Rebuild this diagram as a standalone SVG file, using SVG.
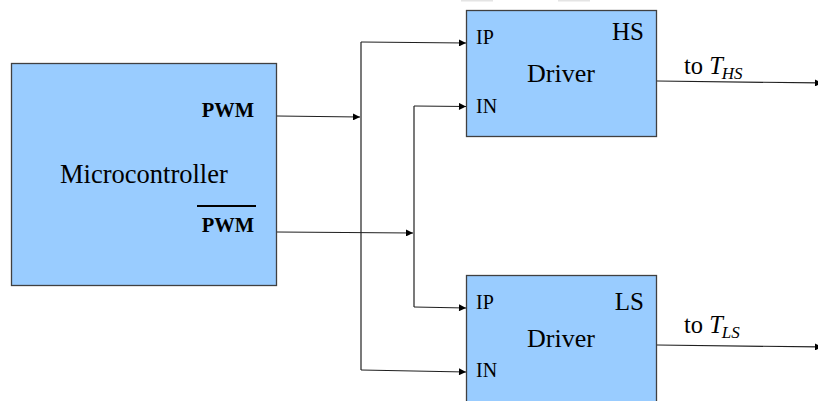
<svg xmlns="http://www.w3.org/2000/svg" width="818" height="401" viewBox="0 0 818 401">
<style>
.box{fill:#99ccff;stroke:#404040;stroke-width:1.3}
.t{font-family:'Liberation Serif','Times New Roman',Times,'DejaVu Serif','Noto Serif',serif;fill:#000}
.ln{stroke:#202020;stroke-width:1.2;fill:none}
</style>
<defs>
<marker id="ar" viewBox="0 0 10 10" refX="10" refY="5" markerWidth="9" markerHeight="7" markerUnits="userSpaceOnUse" orient="auto">
<path d="M0,0 L10,5 L0,10 z" fill="#000"/>
</marker>
</defs>
<rect x="461" y="0" width="32" height="1.5" fill="#e4e4e4"/>
<rect x="558" y="0" width="32" height="1.5" fill="#e4e4e4"/>
<g id="microcontroller">
<rect class="box" x="11.5" y="63.5" width="265" height="222"/>
<text class="t" x="60" y="183" font-size="26.5">Microcontroller</text>
<text class="t" x="254" y="117" font-size="20.5" font-weight="bold" text-anchor="end">PWM</text>
<line x1="197" y1="206" x2="256" y2="206" stroke="#000" stroke-width="2"/>
<text class="t" x="254" y="232" font-size="20.5" font-weight="bold" text-anchor="end">PWM</text>
</g>
<g id="driver-hs">
<rect class="box" x="466.5" y="10.5" width="190" height="126"/>
<text class="t" x="476" y="44" font-size="20">IP</text>
<text class="t" x="476" y="113" font-size="20">IN</text>
<text class="t" x="644" y="40" font-size="25" text-anchor="end">HS</text>
<text class="t" x="561" y="82" font-size="26" text-anchor="middle">Driver</text>
<text class="t" x="684" y="74" font-size="24.5">to <tspan font-style="italic">T</tspan><tspan font-style="italic" font-size="17" dy="5" dx="-1">HS</tspan></text>
</g>
<g id="driver-ls">
<rect class="box" x="466.5" y="275.5" width="190" height="140"/>
<text class="t" x="476" y="309" font-size="20">IP</text>
<text class="t" x="476" y="377" font-size="20">IN</text>
<text class="t" x="644" y="310" font-size="25" text-anchor="end">LS</text>
<text class="t" x="561" y="347" font-size="26" text-anchor="middle">Driver</text>
<text class="t" x="684" y="333" font-size="24.5">to <tspan font-style="italic">T</tspan><tspan font-style="italic" font-size="17" dy="5" dx="-1">LS</tspan></text>
</g>
<g id="connectors">
<line class="ln" x1="277" y1="116" x2="360" y2="117" marker-end="url(#ar)"/>
<line class="ln" x1="277" y1="232" x2="413" y2="233" marker-end="url(#ar)"/>
<polyline class="ln" points="361,42 361,370"/>
<line class="ln" x1="361" y1="42" x2="466" y2="43" marker-end="url(#ar)"/>
<line class="ln" x1="361" y1="370" x2="466" y2="372" marker-end="url(#ar)"/>
<polyline class="ln" points="414,106 414,307"/>
<line class="ln" x1="414" y1="106" x2="466" y2="106.5" marker-end="url(#ar)"/>
<line class="ln" x1="414" y1="307" x2="466" y2="308" marker-end="url(#ar)"/>
<line class="ln" x1="657" y1="81" x2="822" y2="83" marker-end="url(#ar)"/>
<line class="ln" x1="657" y1="345" x2="822" y2="347" marker-end="url(#ar)"/>
</g>
</svg>
